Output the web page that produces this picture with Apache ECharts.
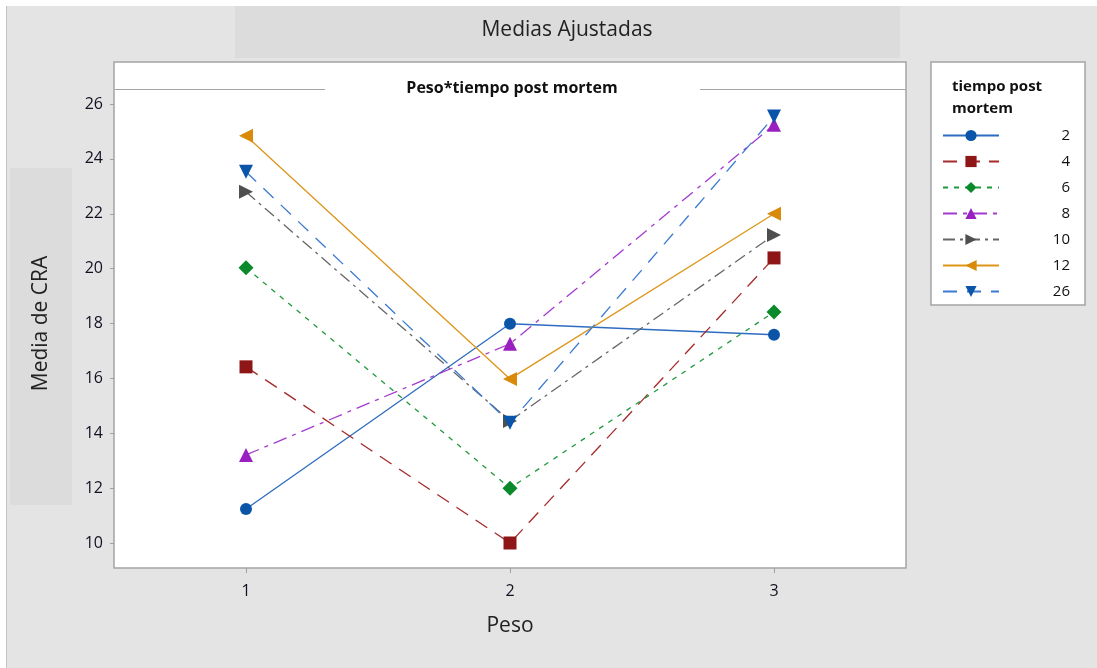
<!DOCTYPE html>
<html><head><meta charset="utf-8">
<script src="https://cdn.jsdelivr.net/npm/echarts@6/dist/echarts.min.js"></script>
<style>html,body{margin:0;padding:0;background:#fff}#c{width:1097px;height:668px}</style>
</head><body><div id="c"></div>
<script>
const categories = ['1', '2', '3'];
const seriesNames = ['2', '4', '6', '8', '10', '12', '26'];
const s2  = [11.24, 17.99, 17.59];
const s4  = [16.42, 10.00, 20.39];
const s6  = [20.03, 12.00, 18.42];
const s8  = [13.21, 17.26, 25.24];
const s10 = [22.80, 14.45, 21.23];
const s12 = [24.84, 15.98, 22.00];
const s26 = [23.53, 14.38, 25.54];
const yMin = 10, yMax = 26, yStep = 2;
const chartTitle = 'Medias Ajustadas';
const panelTitle = 'Peso*tiempo post mortem';
const legendTitle = 'tiempo post\nmortem';
const xName = 'Peso', yName = 'Media de CRA';

const FONT = '"Open Sans", "Noto Sans", sans-serif';
const values = [s2, s4, s6, s8, s10, s12, s26];
const styles = [
  {color:'#0a55a8', line:'#2d6cc0', type:'solid', symbol:'circle', size:12, rot:0},
  {color:'#8e1616', line:'#a52a2a', type:[14,9], symbol:'rect', size:13, rot:0},
  {color:'#0b8a2c', line:'#1e9a3a', type:[5,6], symbol:'diamond', size:15, rot:0},
  {color:'#9a1fc0', line:'#a43ad0', type:[14,6,4,6], symbol:'triangle', size:14, rot:0},
  {color:'#4f4f4f', line:'#666666', type:[12,5,3,5], symbol:'triangle', size:14, rot:-90},
  {color:'#d88a08', line:'#dd9518', type:'solid', symbol:'triangle', size:14, rot:90},
  {color:'#0a55a8', line:'#3a7ad0', type:[14,10], symbol:'triangle', size:14, rot:180}
];

const chart = echarts.init(document.getElementById('c'), null, {renderer:'canvas'});
chart.setOption({
  backgroundColor:'#ffffff',
  animation:false,
  textStyle:{fontFamily:FONT},
  graphic:[
    {type:'rect', z:-10, shape:{x:6, y:6, width:1091, height:662}, style:{fill:'#e4e4e4'}},
    {type:'line', z:-9, shape:{x1:6.5, y1:6, x2:6.5, y2:668}, style:{stroke:'#c4c4c4', lineWidth:1}},
    {type:'rect', z:-9, shape:{x:235, y:6, width:665, height:52}, style:{fill:'#dcdcdc'}},
    {type:'rect', z:-9, shape:{x:10, y:168, width:62, height:337}, style:{fill:'#dcdcdc'}},
    {type:'rect', z:-8, shape:{x:114, y:62, width:792, height:506}, style:{fill:'#ffffff', stroke:'#a4a4a4', lineWidth:1.5}},
    {type:'line', z:-7, shape:{x1:115, y1:89.5, x2:325, y2:89.5}, style:{stroke:'#a4a4a4', lineWidth:1}},
    {type:'line', z:-7, shape:{x1:700, y1:89.5, x2:906, y2:89.5}, style:{stroke:'#a4a4a4', lineWidth:1}},
    {type:'rect', z:-8, shape:{x:931, y:62, width:154, height:243}, style:{fill:'#ffffff', stroke:'#a4a4a4', lineWidth:1.5}},
    {type:'text', z:5, x:567, y:30, style:{text:chartTitle, align:'center', verticalAlign:'middle', font:'21px ' + FONT, fill:'#222222'}},
    {type:'text', z:5, x:512, y:88, style:{text:panelTitle, align:'center', verticalAlign:'middle', font:'bold 16px ' + FONT, fill:'#111111'}},
    {type:'text', z:5, x:952, y:76, style:{text:legendTitle, align:'left', verticalAlign:'top', font:'bold 15px ' + FONT, lineHeight:22, fill:'#111111'}}
  ],
  grid:{left:114, right:191, top:104, bottom:125},
  legend:{
    orient:'vertical', left:937, top:123,
    itemWidth:56, itemHeight:14, itemGap:11,
    data:seriesNames,
    formatter: n => '{n|' + n + '}',
    textStyle:{fontFamily:FONT, fontSize:15, color:'#111', lineHeight:15, rich:{n:{width:66, align:'right', fontSize:15, lineHeight:15, fontFamily:FONT, color:'#111'}}}
  },
  xAxis:{
    type:'category', data:categories, boundaryGap:true, offset:25,
    axisLine:{show:false},
    axisTick:{show:true, alignWithLabel:true, length:5, lineStyle:{color:'#a0a0a0'}},
    axisLabel:{fontSize:16, color:'#111122', margin:15, fontFamily:FONT},
    name:xName, nameLocation:'middle', nameGap:48,
    nameTextStyle:{fontSize:21, color:'#222', fontFamily:FONT},
    splitLine:{show:false}
  },
  yAxis:{
    type:'value', min:yMin, max:yMax, interval:yStep,
    axisLine:{show:false},
    axisTick:{show:true, length:4, lineStyle:{color:'#a0a0a0'}},
    axisLabel:{fontSize:16, color:'#111122', margin:11, fontFamily:FONT},
    splitLine:{show:false},
    name:yName, nameLocation:'middle', nameGap:62,
    nameTextStyle:{fontSize:21, color:'#222', fontFamily:FONT}
  },
  series: seriesNames.map((n, i) => ({
    name:n, type:'line', data:values[i], clip:false,
    symbol:styles[i].symbol, symbolSize:styles[i].size, symbolRotate:styles[i].rot,
    showAllSymbol:true,
    itemStyle:{color:styles[i].color},
    lineStyle:{color:styles[i].line, width:1.3, type:styles[i].type},
    emphasis:{disabled:true}
  }))
});
</script>
</body></html>
